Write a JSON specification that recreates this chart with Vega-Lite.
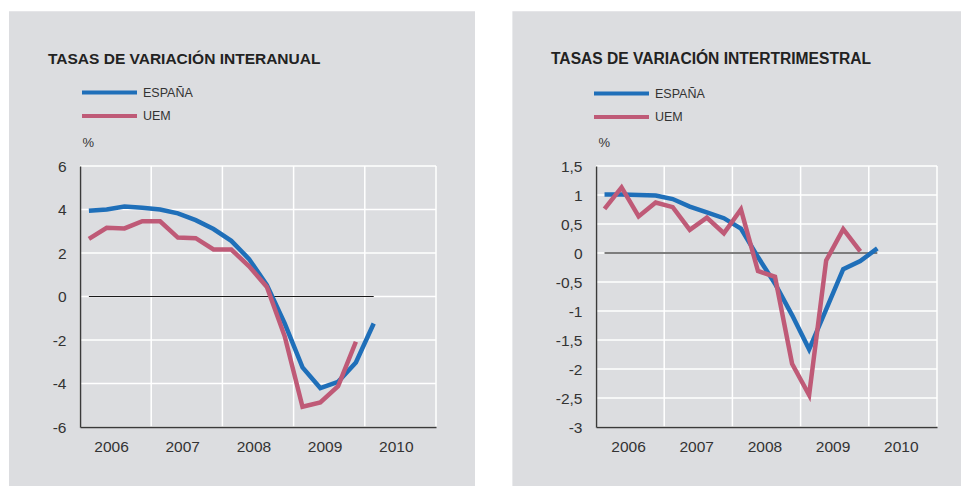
{
  "$schema": "https://vega.github.io/schema/vega-lite/v6.json",
  "background": "white",
  "padding": {"left": 9, "top": 11, "right": 0, "bottom": 0},
  "datasets": {
    "interanual": [
      {"t": 2006.125, "serie": "ESPAÑA", "v": 3.94},
      {"t": 2006.375, "serie": "ESPAÑA", "v": 4.0},
      {"t": 2006.625, "serie": "ESPAÑA", "v": 4.14},
      {"t": 2006.875, "serie": "ESPAÑA", "v": 4.08},
      {"t": 2007.125, "serie": "ESPAÑA", "v": 4.0},
      {"t": 2007.375, "serie": "ESPAÑA", "v": 3.82},
      {"t": 2007.625, "serie": "ESPAÑA", "v": 3.51},
      {"t": 2007.875, "serie": "ESPAÑA", "v": 3.1},
      {"t": 2008.125, "serie": "ESPAÑA", "v": 2.56},
      {"t": 2008.375, "serie": "ESPAÑA", "v": 1.72},
      {"t": 2008.625, "serie": "ESPAÑA", "v": 0.52},
      {"t": 2008.875, "serie": "ESPAÑA", "v": -1.24},
      {"t": 2009.125, "serie": "ESPAÑA", "v": -3.26},
      {"t": 2009.375, "serie": "ESPAÑA", "v": -4.21},
      {"t": 2009.625, "serie": "ESPAÑA", "v": -3.92},
      {"t": 2009.875, "serie": "ESPAÑA", "v": -3.03},
      {"t": 2010.125, "serie": "ESPAÑA", "v": -1.24},
      {"t": 2006.125, "serie": "UEM", "v": 2.65},
      {"t": 2006.375, "serie": "UEM", "v": 3.16},
      {"t": 2006.625, "serie": "UEM", "v": 3.13},
      {"t": 2006.875, "serie": "UEM", "v": 3.46},
      {"t": 2007.125, "serie": "UEM", "v": 3.46},
      {"t": 2007.375, "serie": "UEM", "v": 2.71},
      {"t": 2007.625, "serie": "UEM", "v": 2.68},
      {"t": 2007.875, "serie": "UEM", "v": 2.16},
      {"t": 2008.125, "serie": "UEM", "v": 2.16},
      {"t": 2008.375, "serie": "UEM", "v": 1.39},
      {"t": 2008.625, "serie": "UEM", "v": 0.44},
      {"t": 2008.875, "serie": "UEM", "v": -1.83},
      {"t": 2009.125, "serie": "UEM", "v": -5.07},
      {"t": 2009.375, "serie": "UEM", "v": -4.87},
      {"t": 2009.625, "serie": "UEM", "v": -4.12},
      {"t": 2009.875, "serie": "UEM", "v": -2.08}
    ],
    "intertrimestral": [
      {"t": 2006.125, "serie": "ESPAÑA", "v": 1.01},
      {"t": 2006.375, "serie": "ESPAÑA", "v": 1.01},
      {"t": 2006.625, "serie": "ESPAÑA", "v": 1.0},
      {"t": 2006.875, "serie": "ESPAÑA", "v": 0.99},
      {"t": 2007.125, "serie": "ESPAÑA", "v": 0.93},
      {"t": 2007.375, "serie": "ESPAÑA", "v": 0.8},
      {"t": 2007.625, "serie": "ESPAÑA", "v": 0.7},
      {"t": 2007.875, "serie": "ESPAÑA", "v": 0.6},
      {"t": 2008.125, "serie": "ESPAÑA", "v": 0.42},
      {"t": 2008.375, "serie": "ESPAÑA", "v": -0.07},
      {"t": 2008.625, "serie": "ESPAÑA", "v": -0.53},
      {"t": 2008.875, "serie": "ESPAÑA", "v": -1.07},
      {"t": 2009.125, "serie": "ESPAÑA", "v": -1.66},
      {"t": 2009.375, "serie": "ESPAÑA", "v": -0.97},
      {"t": 2009.625, "serie": "ESPAÑA", "v": -0.28},
      {"t": 2009.875, "serie": "ESPAÑA", "v": -0.14},
      {"t": 2010.125, "serie": "ESPAÑA", "v": 0.08},
      {"t": 2006.125, "serie": "UEM", "v": 0.76},
      {"t": 2006.375, "serie": "UEM", "v": 1.13},
      {"t": 2006.625, "serie": "UEM", "v": 0.63},
      {"t": 2006.875, "serie": "UEM", "v": 0.87},
      {"t": 2007.125, "serie": "UEM", "v": 0.79},
      {"t": 2007.375, "serie": "UEM", "v": 0.4},
      {"t": 2007.625, "serie": "UEM", "v": 0.61},
      {"t": 2007.875, "serie": "UEM", "v": 0.34},
      {"t": 2008.125, "serie": "UEM", "v": 0.75},
      {"t": 2008.375, "serie": "UEM", "v": -0.31},
      {"t": 2008.625, "serie": "UEM", "v": -0.41},
      {"t": 2008.875, "serie": "UEM", "v": -1.91},
      {"t": 2009.125, "serie": "UEM", "v": -2.45},
      {"t": 2009.375, "serie": "UEM", "v": -0.13},
      {"t": 2009.625, "serie": "UEM", "v": 0.41},
      {"t": 2009.875, "serie": "UEM", "v": 0.03}
    ]
  },
  "hconcat": [
    {
      "width": 356,
      "height": 261,
      "title": {"text": "TASAS DE VARIACIÓN INTERANUAL", "dx": -32, "fontSize": 15.5},
      "layer": [
        {
          "data": {"values": [{}]},
          "mark": {"type": "rect", "color": "#dcdde0"},
          "encoding": {
            "x": {"datum": 2005.003, "type": "quantitative", "scale": {"domain": [2006, 2011], "nice": false, "zero": false}, "title": null,
              "axis": {"values": [2006, 2007, 2008, 2009, 2010, 2011], "labelExpr": "datum.value < 2011 ? toString(datum.value) : ''", "labelOffset": 31, "zindex": 1}},
            "x2": {"datum": 2011.548},
            "y": {"datum": 13.113, "type": "quantitative", "scale": {"domain": [-6, 6], "nice": false, "zero": false}, "title": "%",
              "axis": {"values": [-6, -4, -2, 0, 2, 4, 6], "labelExpr": "toString(datum.value)", "zindex": 1}},
            "y2": {"datum": -8.726}
          }
        },
        {
          "data": {"values": [{"yr": 2006}, {"yr": 2007}, {"yr": 2008}, {"yr": 2009}, {"yr": 2010}, {"yr": 2011}]},
          "mark": {"type": "rule", "color": "white", "strokeWidth": 1.5},
          "encoding": {
            "x": {"field": "yr", "type": "quantitative", "scale": {"domain": [2006, 2011], "nice": false, "zero": false}, "title": null,
              "axis": {"values": [2006, 2007, 2008, 2009, 2010, 2011], "labelExpr": "datum.value < 2011 ? toString(datum.value) : ''", "labelOffset": 31, "zindex": 1}},
            "y": {"datum": -6, "type": "quantitative", "scale": {"domain": [-6, 6], "nice": false, "zero": false}, "title": "%",
              "axis": {"values": [-6, -4, -2, 0, 2, 4, 6], "labelExpr": "toString(datum.value)", "zindex": 1}},
            "y2": {"datum": 6}
          }
        },
        {
          "data": {"values": [{"g": -6}, {"g": -4}, {"g": -2}, {"g": 0}, {"g": 2}, {"g": 4}, {"g": 6}]},
          "mark": {"type": "rule", "color": "white", "strokeWidth": 1.5},
          "encoding": {
            "y": {"field": "g", "type": "quantitative", "scale": {"domain": [-6, 6], "nice": false, "zero": false}, "title": "%",
              "axis": {"values": [-6, -4, -2, 0, 2, 4, 6], "labelExpr": "toString(datum.value)", "zindex": 1}},
            "x": {"datum": 2006, "type": "quantitative", "scale": {"domain": [2006, 2011], "nice": false, "zero": false}, "title": null,
              "axis": {"values": [2006, 2007, 2008, 2009, 2010, 2011], "labelExpr": "datum.value < 2011 ? toString(datum.value) : ''", "labelOffset": 31, "zindex": 1}},
            "x2": {"datum": 2011}
          }
        },
        {
          "data": {"values": [{}]},
          "mark": {"type": "rule", "color": "#1a1a1a", "strokeWidth": 1},
          "encoding": {
            "x": {"datum": 2006.125, "type": "quantitative", "scale": {"domain": [2006, 2011], "nice": false, "zero": false}, "title": null,
              "axis": {"values": [2006, 2007, 2008, 2009, 2010, 2011], "labelExpr": "datum.value < 2011 ? toString(datum.value) : ''", "labelOffset": 31, "zindex": 1}},
            "x2": {"datum": 2010.125},
            "y": {"datum": 0, "type": "quantitative", "scale": {"domain": [-6, 6], "nice": false, "zero": false}, "title": "%",
              "axis": {"values": [-6, -4, -2, 0, 2, 4, 6], "labelExpr": "toString(datum.value)", "zindex": 1}}
          }
        },
        {
          "data": {"name": "interanual"},
          "mark": {"type": "line", "strokeWidth": 4.5},
          "encoding": {
            "x": {"field": "t", "type": "quantitative", "scale": {"domain": [2006, 2011], "nice": false, "zero": false}, "title": null,
              "axis": {"values": [2006, 2007, 2008, 2009, 2010, 2011], "labelExpr": "datum.value < 2011 ? toString(datum.value) : ''", "labelOffset": 31, "zindex": 1}},
            "y": {"field": "v", "type": "quantitative", "scale": {"domain": [-6, 6], "nice": false, "zero": false}, "title": "%",
              "axis": {"values": [-6, -4, -2, 0, 2, 4, 6], "labelExpr": "toString(datum.value)", "zindex": 1}},
            "color": {"field": "serie", "type": "nominal",
              "scale": {"domain": ["ESPAÑA", "UEM"], "range": ["#1f6fb9", "#bf5a77"]},
              "legend": {"title": null, "legendX": 0, "legendY": -81.4}}
          }
        }
      ]
    },
    {
      "width": 341,
      "height": 261,
      "title": {"text": "TASAS DE VARIACIÓN INTERTRIMESTRAL", "dx": -45, "fontSize": 15.6},
      "layer": [
        {
          "data": {"values": [{}]},
          "mark": {"type": "rect", "color": "#dcdde0"},
          "encoding": {
            "x": {"datum": 2004.774, "type": "quantitative", "scale": {"domain": [2006, 2011], "nice": false, "zero": false}, "title": null,
              "axis": {"values": [2006, 2007, 2008, 2009, 2010, 2011], "labelExpr": "datum.value < 2011 ? toString(datum.value) : ''", "labelOffset": 32, "zindex": 1}},
            "x2": {"datum": 2011.366},
            "y": {"datum": 4.167, "type": "quantitative", "scale": {"domain": [-3, 1.5], "nice": false, "zero": false}, "title": "%",
              "axis": {"values": [-3, -2.5, -2, -1.5, -1, -0.5, 0, 0.5, 1, 1.5], "labelExpr": "replace(toString(datum.value), '.', ',')", "zindex": 1}},
            "y2": {"datum": -4.022}
          }
        },
        {
          "data": {"values": [{"yr": 2006}, {"yr": 2007}, {"yr": 2008}, {"yr": 2009}, {"yr": 2010}, {"yr": 2011}]},
          "mark": {"type": "rule", "color": "white", "strokeWidth": 1.5},
          "encoding": {
            "x": {"field": "yr", "type": "quantitative", "scale": {"domain": [2006, 2011], "nice": false, "zero": false}, "title": null,
              "axis": {"values": [2006, 2007, 2008, 2009, 2010, 2011], "labelExpr": "datum.value < 2011 ? toString(datum.value) : ''", "labelOffset": 32, "zindex": 1}},
            "y": {"datum": -3, "type": "quantitative", "scale": {"domain": [-3, 1.5], "nice": false, "zero": false}, "title": "%",
              "axis": {"values": [-3, -2.5, -2, -1.5, -1, -0.5, 0, 0.5, 1, 1.5], "labelExpr": "replace(toString(datum.value), '.', ',')", "zindex": 1}},
            "y2": {"datum": 1.5}
          }
        },
        {
          "data": {"values": [{"g": -3}, {"g": -2.5}, {"g": -2}, {"g": -1.5}, {"g": -1}, {"g": -0.5}, {"g": 0}, {"g": 0.5}, {"g": 1}, {"g": 1.5}]},
          "mark": {"type": "rule", "color": "white", "strokeWidth": 1.5},
          "encoding": {
            "y": {"field": "g", "type": "quantitative", "scale": {"domain": [-3, 1.5], "nice": false, "zero": false}, "title": "%",
              "axis": {"values": [-3, -2.5, -2, -1.5, -1, -0.5, 0, 0.5, 1, 1.5], "labelExpr": "replace(toString(datum.value), '.', ',')", "zindex": 1}},
            "x": {"datum": 2006, "type": "quantitative", "scale": {"domain": [2006, 2011], "nice": false, "zero": false}, "title": null,
              "axis": {"values": [2006, 2007, 2008, 2009, 2010, 2011], "labelExpr": "datum.value < 2011 ? toString(datum.value) : ''", "labelOffset": 32, "zindex": 1}},
            "x2": {"datum": 2011}
          }
        },
        {
          "data": {"values": [{}]},
          "mark": {"type": "rule", "color": "#555555", "strokeWidth": 1.5},
          "encoding": {
            "x": {"datum": 2006.125, "type": "quantitative", "scale": {"domain": [2006, 2011], "nice": false, "zero": false}, "title": null,
              "axis": {"values": [2006, 2007, 2008, 2009, 2010, 2011], "labelExpr": "datum.value < 2011 ? toString(datum.value) : ''", "labelOffset": 32, "zindex": 1}},
            "x2": {"datum": 2010.125},
            "y": {"datum": 0, "type": "quantitative", "scale": {"domain": [-3, 1.5], "nice": false, "zero": false}, "title": "%",
              "axis": {"values": [-3, -2.5, -2, -1.5, -1, -0.5, 0, 0.5, 1, 1.5], "labelExpr": "replace(toString(datum.value), '.', ',')", "zindex": 1}}
          }
        },
        {
          "data": {"name": "intertrimestral"},
          "mark": {"type": "line", "strokeWidth": 4.5},
          "encoding": {
            "x": {"field": "t", "type": "quantitative", "scale": {"domain": [2006, 2011], "nice": false, "zero": false}, "title": null,
              "axis": {"values": [2006, 2007, 2008, 2009, 2010, 2011], "labelExpr": "datum.value < 2011 ? toString(datum.value) : ''", "labelOffset": 32, "zindex": 1}},
            "y": {"field": "v", "type": "quantitative", "scale": {"domain": [-3, 1.5], "nice": false, "zero": false}, "title": "%",
              "axis": {"values": [-3, -2.5, -2, -1.5, -1, -0.5, 0, 0.5, 1, 1.5], "labelExpr": "replace(toString(datum.value), '.', ',')", "zindex": 1}},
            "color": {"field": "serie", "type": "nominal",
              "scale": {"domain": ["ESPAÑA", "UEM"], "range": ["#1f6fb9", "#bf5a77"]},
              "legend": {"title": null, "legendX": -4, "legendY": -80.4}}
          }
        }
      ]
    }
  ],
  "spacing": 36,
  "resolve": {
    "scale": {"x": "independent", "y": "independent", "color": "independent"},
    "legend": {"color": "independent"}
  },
  "config": {
    "view": {"stroke": null},
    "font": "Liberation Sans",
    "axis": {
      "grid": false, "ticks": false, "domainColor": "#3a3a3a", "domainWidth": 1.5,
      "labelFont": "Liberation Sans", "labelFontSize": 15.5, "labelColor": "#333333",
      "labelOverlap": false, "labelBound": false, "labelFlush": false, "zindex": 1
    },
    "axisX": {"labelPadding": 12},
    "axisY": {
      "labelPadding": 14, "titleAngle": 0, "titleAlign": "left", "titleBaseline": "middle",
      "titleX": 2, "titleY": -24, "titleFontSize": 13, "titleFontWeight": "normal",
      "titleColor": "#333333", "titleFont": "Liberation Sans"
    },
    "legend": {
      "orient": "none", "symbolType": "stroke", "symbolSize": 3025, "symbolStrokeWidth": 4,
      "clipHeight": 16, "rowPadding": 7.4, "labelFont": "Liberation Sans", "labelFontSize": 12.5,
      "labelFontWeight": "normal", "labelColor": "#333333", "labelOffset": 4, "padding": 0
    },
    "title": {
      "font": "Liberation Sans", "fontSize": 15, "fontWeight": "bold", "color": "#222222",
      "anchor": "start", "frame": "group", "offset": -56
    }
  }
}
